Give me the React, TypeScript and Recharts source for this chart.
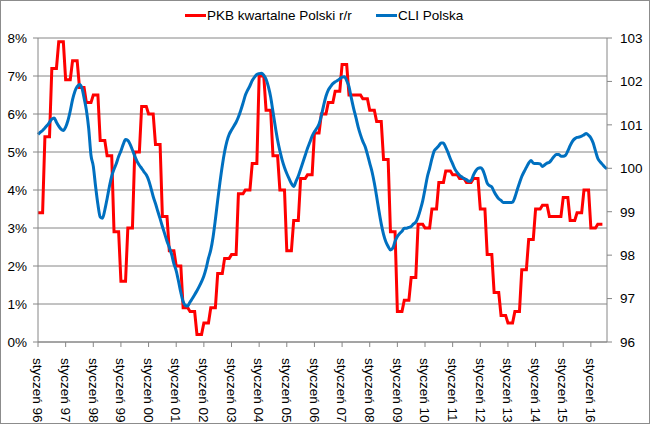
import React from "react";
import { LineChart, Line, XAxis, YAxis, CartesianGrid } from "recharts";

// Quarterly GDP y/y (%), Q1 1996 .. Q2 2016
const GDP_Q = [
  3.4, 5.4, 7.2, 7.9,
  6.9, 7.4, 6.7, 6.3,
  6.5, 5.3, 4.9, 2.9,
  1.6, 3.0, 5.0, 6.2,
  6.0, 5.2, 3.3, 2.4,
  2.0, 0.9, 0.8, 0.2,
  0.5, 0.9, 1.8, 2.2,
  2.3, 3.9, 4.0, 4.7,
  7.0, 6.1, 4.9, 4.0,
  2.4, 3.2, 4.3, 4.4,
  5.5, 6.0, 6.3, 6.6,
  7.3, 6.5, 6.5, 6.4,
  6.1, 5.8, 4.8, 2.9,
  0.8, 1.1, 1.7, 3.1,
  3.0, 3.5, 4.2, 4.5,
  4.4, 4.3, 4.2, 4.3,
  3.5, 2.3, 1.3, 0.7,
  0.5, 0.8, 1.9, 2.7,
  3.5, 3.6, 3.3, 3.3,
  3.8, 3.2, 3.4, 4.0,
  3.0, 3.1,
];

// Monthly CLI, Jan 1996 .. Aug 2016
const CLI = [
  100.78, 100.83, 100.87, 100.93, 100.99, 101.06, 101.13, 101.16, 101.06, 100.97, 100.9, 100.87,
  100.95, 101.1, 101.32, 101.58, 101.77, 101.88, 101.93, 101.86, 101.62, 101.34, 100.92, 100.3,
  100.05, 99.58, 99.17, 98.88, 98.85, 99.04, 99.3, 99.58, 99.82, 99.98, 100.11, 100.27,
  100.4, 100.55, 100.66, 100.64, 100.55, 100.42, 100.28, 100.16, 100.07, 100.0, 99.92, 99.85,
  99.73, 99.55, 99.35, 99.19, 99.01, 98.84, 98.66, 98.49, 98.32, 98.18, 98.02, 97.8,
  97.64, 97.4, 97.14, 96.93, 96.84, 96.83, 96.92, 97.0, 97.09, 97.18, 97.28, 97.39,
  97.52, 97.7, 97.93, 98.12, 98.42, 98.82, 99.26, 99.68, 100.06, 100.38, 100.62, 100.78,
  100.88, 100.97, 101.06, 101.18, 101.33, 101.5, 101.68, 101.8, 101.9, 102.02, 102.1, 102.16,
  102.18, 102.19, 102.14, 102.05, 101.88, 101.64, 101.3, 100.96, 100.65, 100.4, 100.19, 100.02,
  99.88, 99.76, 99.65, 99.58, 99.7, 99.82, 99.98, 100.14, 100.3, 100.46, 100.6, 100.74,
  100.84, 100.92, 101.02, 101.21, 101.45, 101.66, 101.8, 101.88, 101.95, 101.99, 102.02, 102.06,
  102.1, 102.11, 102.02, 101.88, 101.62, 101.38, 101.17, 100.95, 100.77, 100.62, 100.5, 100.32,
  100.12, 99.92, 99.66, 99.35, 99.02, 98.72, 98.48, 98.31, 98.2, 98.12, 98.16, 98.32,
  98.43, 98.5, 98.55, 98.62, 98.62, 98.64, 98.66, 98.72, 98.76, 98.88, 99.05, 99.25,
  99.52, 99.8, 100.0, 100.22, 100.4, 100.46, 100.52, 100.58, 100.58, 100.48, 100.36, 100.22,
  100.1, 99.98, 99.9, 99.84, 99.8, 99.76, 99.74, 99.7, 99.72, 99.84, 99.94, 100.0,
  100.01, 99.97, 99.83, 99.66, 99.6, 99.57, 99.46, 99.37, 99.3, 99.26, 99.21, 99.21,
  99.21, 99.21, 99.22, 99.33, 99.5, 99.66, 99.81, 99.92, 100.02, 100.12, 100.18, 100.12,
  100.11, 100.11, 100.1, 100.04, 100.08, 100.12, 100.14, 100.2, 100.27, 100.32, 100.32, 100.28,
  100.28, 100.3, 100.4, 100.52, 100.62, 100.68, 100.71, 100.72, 100.74, 100.77, 100.8, 100.76,
  100.7, 100.58, 100.4, 100.23, 100.15, 100.09, 100.03, 99.99,
];

const YEARS = ["96", "97", "98", "99", "00", "01", "02", "03", "04", "05", "06", "07", "08", "09", "10", "11", "12", "13", "14", "15", "16"];
const PCT_TICKS = [0, 1, 2, 3, 4, 5, 6, 7, 8];
const CLI_TICKS = [96, 97, 98, 99, 100, 101, 102, 103];

const RED = "#FF0000";
const BLUE = "#0070C0";
const GRID = "#868686";
const FONT = "'Liberation Sans', Arial, sans-serif";

// quarterly GDP repeated for every month of the quarter
const data = CLI.map((cli, m) => ({
  m,
  cli,
  gdp: m < GDP_Q.length * 3 ? GDP_Q[Math.floor(m / 3)] : null,
}));

const MonthTick = (props: any) => {
  const { x, y, payload } = props;
  const label = `styczeń ${YEARS[Math.round(payload.value / 12)]}`;
  return (
    <g transform={`translate(${x},${y})`}>
      <text transform="rotate(90)" x={9} y={0} dy="0.35em" textAnchor="start" fill="#000" fontSize={13.5} fontFamily={FONT}>
        {label}
      </text>
    </g>
  );
};

const LegendItem = ({ left, color, text }: { left: number; color: string; text: string }) => (
  <div style={{ position: "absolute", left, top: 6, display: "flex", alignItems: "center", height: 18 }}>
    <span style={{ display: "inline-block", width: 21, height: 3, background: color, marginRight: 1 }} />
    <span style={{ fontSize: 13.5, color: "#000", whiteSpace: "nowrap" }}>{text}</span>
  </div>
);

export default function App() {
  return (
    <div style={{ position: "absolute", left: 0, top: 0, width: 650, height: 424, background: "#fff", fontFamily: FONT }}>
      <LineChart width={650} height={424} data={data} margin={{ top: 38, right: 0, bottom: 0, left: 0 }} style={{ fontFamily: FONT }}>
        <CartesianGrid yAxisId="left" vertical={false} stroke={GRID} strokeWidth={1} />
        <XAxis
          dataKey="m"
          type="number"
          domain={[0, 247]}
          ticks={YEARS.map((_, i) => i * 12)}
          interval={0}
          tick={<MonthTick />}
          height={82}
          tickSize={5}
          stroke={GRID}
        />
        <YAxis
          yAxisId="left"
          domain={[0, 8]}
          ticks={PCT_TICKS}
          tickFormatter={(v: number) => `${v}%`}
          width={38}
          tickSize={5}
          tickMargin={6}
          stroke={GRID}
          tick={{ fill: "#000", fontSize: 13.5 }}
        />
        <YAxis
          yAxisId="right"
          orientation="right"
          domain={[96, 103]}
          ticks={CLI_TICKS}
          width={43}
          tickSize={5}
          tickMargin={8}
          stroke={GRID}
          tick={{ fill: "#000", fontSize: 13.5 }}
        />
        <Line yAxisId="left" type="linear" dataKey="gdp" stroke={RED} strokeWidth={3} dot={false} isAnimationActive={false} />
        <Line yAxisId="right" type="monotone" dataKey="cli" stroke={BLUE} strokeWidth={3} dot={false} isAnimationActive={false} />
      </LineChart>
      <LegendItem left={185} color={RED} text="PKB kwartalne Polski r/r" />
      <LegendItem left={376} color={BLUE} text="CLI Polska" />
      <div style={{ position: "absolute", left: 0, top: 0, width: 650, height: 424, boxSizing: "border-box", border: "1px solid #8c8c8c", pointerEvents: "none" }} />
    </div>
  );
}
